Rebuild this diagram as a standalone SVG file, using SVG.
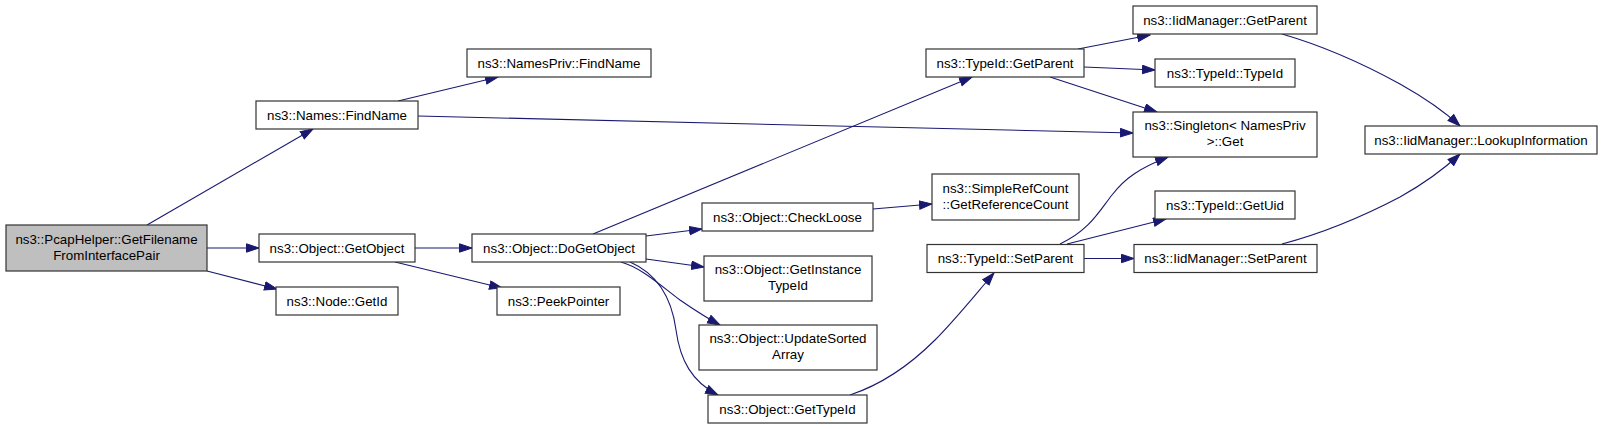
<svg xmlns="http://www.w3.org/2000/svg" width="1603" height="429" viewBox="0 0 1603 429">
<style>
.node rect{fill:#ffffff;stroke:#333333;stroke-width:1.2}
.node.root rect{fill:#bfbfbf}
.node text{font-family:"Liberation Sans",Arial,sans-serif;font-size:13.33px;fill:#000000;text-anchor:middle}
.edges path{fill:none;stroke:#191970;stroke-width:1.1;marker-end:url(#arrow)}
</style>
<defs>
<marker id="arrow" markerUnits="userSpaceOnUse" markerWidth="14" markerHeight="11" refX="13" refY="4.7" orient="auto">
<path d="M0.5,0.5 L13,4.7 L0.5,8.9 Z" fill="#191970" stroke="#191970" stroke-width="1"/>
</marker>
</defs>
<rect width="1603" height="429" fill="#ffffff"/>
<g class="edges" id="edges">
<path d="M147,225 L313,129"/>
<path d="M207,248 L259,248"/>
<path d="M207,271 L277,289"/>
<path d="M398,101 L498,77"/>
<path d="M418,116 L1133,133"/>
<path d="M415,248 L472,248"/>
<path d="M395,262 L502,288"/>
<path d="M593,234 L972,77"/>
<path d="M646,236 L702,229"/>
<path d="M646,259 L704,267"/>
<path d="M621,262 C642,268 660,285 680,300 C693,309 705,317 720,325"/>
<path d="M630,262 C660,275 672,300 676,330 C680,360 692,382 718,395"/>
<path d="M873,209 L932,204"/>
<path d="M850,395 C880,385 910,365 935,340 C955,320 975,295 994,273"/>
<path d="M1078,49 L1150,35"/>
<path d="M1084,67 L1155,70"/>
<path d="M1050,77 L1157,112"/>
<path d="M1060,244 C1090,230 1100,210 1112,195 C1125,178 1140,168 1168,157"/>
<path d="M1067,244 L1166,219"/>
<path d="M1084,258.5 L1134,258.5"/>
<path d="M1282,34 C1320,45 1360,62 1400,84 C1425,98 1445,112 1460,126"/>
<path d="M1282,244 C1320,234 1360,218 1400,197 C1425,183 1445,168 1460,154"/>
</g>
<g class="node root" id="n1"><rect x="6" y="225" width="201" height="46"/><text x="106.5" y="243.5">ns3::PcapHelper::GetFilename</text><text x="106.5" y="259.5">FromInterfacePair</text></g>
<g class="node" id="n2"><rect x="256" y="101" width="162" height="28"/><text x="337" y="119.5">ns3::Names::FindName</text></g>
<g class="node" id="n3"><rect x="467" y="49" width="184" height="28"/><text x="559" y="67.5">ns3::NamesPriv::FindName</text></g>
<g class="node" id="n4"><rect x="259" y="234" width="156" height="28"/><text x="337" y="252.5">ns3::Object::GetObject</text></g>
<g class="node" id="n5"><rect x="276" y="287" width="122" height="28"/><text x="337" y="305.5">ns3::Node::GetId</text></g>
<g class="node" id="n6"><rect x="472" y="234" width="174" height="28"/><text x="559" y="252.5">ns3::Object::DoGetObject</text></g>
<g class="node" id="n7"><rect x="497" y="287" width="123" height="28"/><text x="558.5" y="305.5">ns3::PeekPointer</text></g>
<g class="node" id="n8"><rect x="926" y="49" width="158" height="28"/><text x="1005" y="67.5">ns3::TypeId::GetParent</text></g>
<g class="node" id="n9"><rect x="702" y="203" width="171" height="28"/><text x="787.5" y="221.5">ns3::Object::CheckLoose</text></g>
<g class="node" id="n10"><rect x="704" y="256" width="168" height="45"/><text x="788" y="274">ns3::Object::GetInstance</text><text x="788" y="290">TypeId</text></g>
<g class="node" id="n11"><rect x="699" y="325" width="178" height="45"/><text x="788" y="343">ns3::Object::UpdateSorted</text><text x="788" y="359">Array</text></g>
<g class="node" id="n12"><rect x="708" y="395" width="159" height="28"/><text x="787.5" y="413.5">ns3::Object::GetTypeId</text></g>
<g class="node" id="n13"><rect x="932" y="174" width="147" height="46"/><text x="1005.5" y="192.5">ns3::SimpleRefCount</text><text x="1005.5" y="208.5">::GetReferenceCount</text></g>
<g class="node" id="n14"><rect x="927" y="244.5" width="157" height="28"/><text x="1005.5" y="263">ns3::TypeId::SetParent</text></g>
<g class="node" id="n15"><rect x="1133" y="6" width="184" height="28"/><text x="1225" y="24.5">ns3::IidManager::GetParent</text></g>
<g class="node" id="n16"><rect x="1155" y="59" width="140" height="28"/><text x="1225" y="77.5">ns3::TypeId::TypeId</text></g>
<g class="node" id="n17"><rect x="1133" y="112" width="184" height="45"/><text x="1225" y="130">ns3::Singleton&lt; NamesPriv</text><text x="1225" y="146">&gt;::Get</text></g>
<g class="node" id="n18"><rect x="1155" y="191" width="140" height="28"/><text x="1225" y="209.5">ns3::TypeId::GetUid</text></g>
<g class="node" id="n19"><rect x="1134" y="244.5" width="183" height="28"/><text x="1225.5" y="263">ns3::IidManager::SetParent</text></g>
<g class="node" id="n20"><rect x="1365" y="126" width="232" height="28"/><text x="1481" y="144.5">ns3::IidManager::LookupInformation</text></g>
</svg>
